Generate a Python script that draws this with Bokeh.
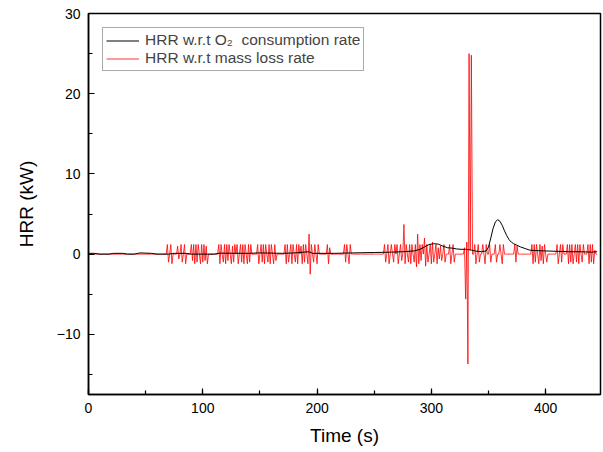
from bokeh.plotting import figure
from bokeh.models import SingleIntervalTicker, Legend, LegendItem, Range1d
from bokeh.embed import file_html
from bokeh.resources import INLINE

# HRR with respect to O2 consumption rate (time s, kW)
time_o2 = [0, 5, 10, 18, 22, 30, 34, 40, 45, 55, 60, 70, 75, 85, 90, 110, 115, 140, 150, 170,
           180, 193, 196, 215, 230, 250, 265, 275, 285, 290, 294, 298, 302, 306, 310, 314, 318,
           322, 326, 330, 335, 340, 344, 348, 350, 352, 354, 356, 358, 360, 362, 364, 366, 368,
           370, 372, 375, 378, 382, 386, 390, 400, 410, 420, 430, 440, 445]
hrr_o2 = [0.1, 0.1, 0.0, 0.0, 0.1, 0.1, 0.0, 0.0, 0.15, 0.1, 0.0, 0.0, 0.1, 0.1, 0.0, 0.0, 0.12,
          0.1, 0.15, 0.1, 0.15, 0.3, 0.1, 0.1, 0.15, 0.2, 0.25, 0.3, 0.4, 0.6, 0.9, 1.2, 1.3,
          1.25, 1.0, 0.8, 0.75, 0.65, 0.6, 0.6, 0.5, 0.35, 0.3, 0.4, 0.9, 2.0, 3.2, 4.0, 4.3,
          4.1, 3.6, 2.9, 2.3, 1.8, 1.5, 1.3, 1.1, 0.9, 0.7, 0.5, 0.45, 0.4, 0.35, 0.3, 0.3,
          0.25, 0.3]

# HRR with respect to mass loss rate, one sample per second from t = 0 s
hrr_mlr = [
    0, 0, 0, 0, 0, 0, 0, 0, 0, 0,
    0, 0, 0, 0, 0, 0, 0, 0, 0, 0,
    0, 0, 0, 0, 0, 0, 0, 0, 0, 0,
    0, 0, 0, 0, 0, 0, 0, 0, 0, 0,
    0, 0, 0, 0, 0, 0, 0, 0, 0, 0,
    0, 0, 0, 0, 0, 0, 0, 0, 0, 0,
    0, 0, 0, 0, 0, 0, 0, 0, 0, 1.2,
    -1.0, 0, 1.2, -1.2, 0, 0, 0, 0, 1.0, -0.6,
    0, 1.2, -1.0, 0, 1.2, -1.2, 0, 0, 0, 0,
    1.2, -0.8, 1.2, -1.2, 1.2, -1.0, 1.2, 0, -1.2, 1.2,
    -1.0, 1.2, -0.8, 1.0, -1.2, 0, 0, 0, 0, 0,
    0, 0, 0, 0, 1.2, -1.2, 1.2, 0, -1.0, 1.2,
    -1.2, 1.2, -0.8, 1.2, 0, -1.2, 1.0, -1.0, 1.2, 0,
    1.2, -1.2, 0, 1.2, -1.0, 1.2, -1.2, 1.2, 0, -1.2,
    1.2, -1.0, 1.2, 0, 0, 0, 0, 0, 1.2, -1.2,
    0, 1.2, -1.0, 1.2, -1.2, 1.2, 0, -1.0, 1.2, -1.2,
    1.2, 0, -1.2, 1.2, -0.8, 0, 0, 0, 0, 0,
    0, 0, 1.2, -1.2, 1.2, -1.0, 0, 1.2, -1.2, 1.2,
    0, -1.0, 1.2, -1.2, 1.2, 0, 1.0, -1.2, 1.2, -1.0,
    1.2, 0, -1.2, 2.5, -2.5, 1.2, 0, -1.0, 1.2, 0,
    -1.2, 1.2, 0, 0, 0, 0, 0, 0, 0, 1.2,
    -1.2, 0.8, 0, 0, 0, 0, 0, 0, 0, 0,
    0, 0, 0, 0, 1.2, -1.0, 1.2, 0, -1.2, 1.2,
    0, 0, 0, 0, 0, 0, 0, 0, 0, 0,
    0, 0, 0, 0, 0, 0, 0, 0, 0, 0,
    0, 0, 0, 0, 0, 0, 0, 0, 0, 1.2,
    -1.0, 0, 1.2, -1.2, 0, 1.2, 0, -1.0, 1.2, 0,
    1.2, -1.2, 0, 1.2, -0.8, 0, 3.7, -1.2, 1.2, 0,
    -1.0, 1.2, -1.2, 1.2, 0, -1.0, 1.2, -1.6, 2.5, -1.2,
    1.2, -0.8, 1.2, 0, 2.0, -1.5, 1.2, -1.0, 0, 1.2,
    -1.2, 1.5, -1.0, 0, 1.2, -1.2, 0.8, -0.6, 1.0, -0.8,
    0, 1.2, -1.0, 0, 0, 0, 1.2, -1.2, 0, 1.2,
    -1.0, 0, 0, 0, 0, 0, 0, 0, 0, 0.8,
    -5.6, 1.5, -13.7, 25, 0.5, 24.8, 0, 0, 1.2, -1.2,
    0, 1.2, -1.0, 0, 0, 1.2, 0, -1.2, 1.2, 0,
    0, 1.2, -1.0, 0, 0, 0, 1.2, -1.0, 0, 0,
    1.2, 0, -1.2, 1.2, 0, 0, 0, 0, 0, 0,
    0, 0, 0, 1.2, -1.0, 1.0, 0, 0, 0, 0,
    0, 0, 0, 0, 0, 0, 0, 0, 1.2, -1.2,
    1.2, -1.0, 1.2, 0, -1.2, 1.2, -0.8, 1.0, -1.2, 1.2,
    0, -1.0, 0, 0, 0, 0, 0, 0, 0, 0,
    1.2, -1.2, 0, 1.2, -1.0, 1.2, 0, 0, 0, 1.2,
    -1.2, 1.2, -1.0, 1.2, -1.2, 0, 1.2, -1.0, 1.2, -1.2,
    1.2, 0, -1.0, 1.2, 0, 0, 0, 1.2, -1.2, 1.2,
    -1.0, 1.2, -1.2, 0.5, 0, 0,
]
time_mlr = list(range(len(hrr_mlr)))

x_ticks_interval = 100
y_ticks_interval = 10
label_o2 = "HRR w.r.t O\u2082  consumption rate"
label_mlr = "HRR w.r.t mass loss rate"
FONT = "Liberation Sans"

p = figure(width=602, height=450, output_backend="svg", toolbar_location=None,
           x_range=Range1d(0, 448), y_range=Range1d(-17.5, 30),
           min_border_left=88, min_border_right=2, min_border_top=13, min_border_bottom=56,
           background_fill_color="white", border_fill_color="white")
p.grid.visible = False
p.outline_line_color = "black"
p.outline_line_width = 1.5
p.outline_line_alpha = 1.0

r_red = p.line(time_mlr, hrr_mlr, line_color="#ff0000", line_width=0.8)
r_black = p.line(time_o2, hrr_o2, line_color="black", line_width=1)

p.xaxis.ticker = SingleIntervalTicker(interval=x_ticks_interval, num_minor_ticks=2)
p.yaxis.ticker = SingleIntervalTicker(interval=y_ticks_interval, num_minor_ticks=2)

for ax in (p.xaxis[0], p.yaxis[0]):
    ax.axis_line_color = "black"
    ax.axis_line_width = 1.5
    ax.major_tick_line_color = "black"
    ax.minor_tick_line_color = "black"
    ax.major_tick_line_width = 1.2
    ax.minor_tick_line_width = 1.2
    ax.major_tick_in = 6
    ax.major_tick_out = 0
    ax.minor_tick_in = 4
    ax.minor_tick_out = 0
    ax.major_label_text_font = FONT
    ax.major_label_text_font_size = "14px"
    ax.major_label_text_color = "black"
    ax.axis_label_text_font = FONT
    ax.axis_label_text_font_size = "19px"
    ax.axis_label_text_font_style = "normal"
    ax.axis_label_text_color = "black"
    ax.major_label_standoff = 8

p.xaxis.axis_label = "Time (s)"
p.yaxis.axis_label = "HRR (kW)"
p.xaxis.axis_label_standoff = 9
p.yaxis.axis_label_standoff = 17

legend = Legend(items=[LegendItem(label=label_o2, renderers=[r_black]),
                       LegendItem(label=label_mlr, renderers=[r_red])],
                location="top_left", margin=14, padding=3, spacing=0,
                glyph_width=33, glyph_height=17, label_height=17, label_standoff=6,
                label_text_font=FONT, label_text_font_size="15.5px",
                border_line_color="#555555", border_line_width=1,
                background_fill_color="white", background_fill_alpha=1.0)
p.add_layout(legend)

open("out.html", "w").write(file_html(p, INLINE))
